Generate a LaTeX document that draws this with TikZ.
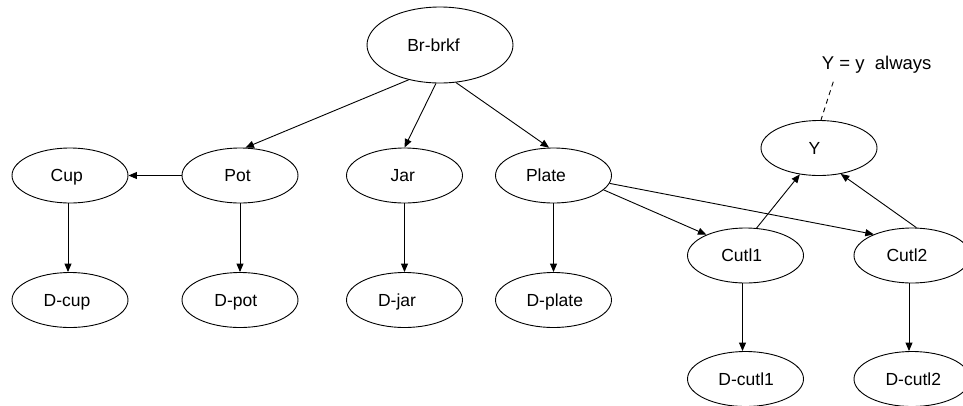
\documentclass[tikz,border=0pt]{standalone}
\usepackage{fontspec}
\setmainfont{Liberation Sans}
\usetikzlibrary{arrows.meta,shapes.geometric}
\begin{document}
\begin{tikzpicture}[x=1pt,y=-1pt,
  every node/.style={font=\fontsize{17.5}{20}\selectfont},
  ell/.style={ellipse,draw,line width=0.9pt,inner sep=0pt,minimum width=116pt,minimum height=55pt,text height=12.5pt,text depth=0pt},
  bigell/.style={ell,minimum width=146pt,minimum height=76pt},
  txshift/.style={execute at begin node={\kern#1pt}},
  arr/.style={draw,line width=0.9pt,-{Triangle[length=8.5pt,width=7pt]}},
  dashline/.style={draw,line width=0.9pt,dash pattern=on 5pt off 4pt},
  notetext/.style={font=\fontsize{18.5}{20}\selectfont,inner sep=0pt}]
\useasboundingbox (0,0) rectangle (963,405);
\node[bigell,txshift=-13] (brkf) at (440,45) {Br-brkf};
\node[ell,txshift=-6.6] (cup) at (70,175.5) {Cup};
\node[ell,txshift=-5] (pot) at (240,175.5) {Pot};
\node[ell,txshift=-3.4] (jar) at (404.5,175.5) {Jar};
\node[ell,txshift=-15] (plate) at (553.5,175.5) {Plate};
\node[ell,txshift=-6] (dcup) at (70,300) {D-cup};
\node[ell,txshift=-8.4] (dpot) at (240,300) {D-pot};
\node[ell,txshift=-15] (djar) at (404.5,300) {D-jar};
\node[ell,txshift=2.6] (dplate) at (553.5,300) {D-plate};
\node[ell,txshift=-9] (Y) at (819,148) {Y};
\node[ell,txshift=-7.6] (cutl1) at (745.5,255.5) {Cutl1};
\node[ell,txshift=-10] (cutl2) at (912,255.5) {Cutl2};
\node[ell,txshift=1.4] (dcutl1) at (745.5,379) {D-cutl1};
\node[ell,txshift=2.6] (dcutl2) at (912,379) {D-cutl2};
\node[notetext,anchor=base west] (note) at (821.7,69.3) {Y = y\ \ always};
\coordinate (dashtop) at (833.3,81.7);
\path[arr] (brkf.228) -- (pot.79);
\path[arr] (brkf.264) -- (jar.north);
\path[arr] (brkf.293) -- (plate.99);
\path[arr] (pot.west) -- (cup.east);
\path[arr] ([xshift=-2pt]cup.south) -- ([xshift=-2pt]dcup.north);
\path[arr] (pot.south) -- (dpot.north);
\path[arr] (jar.south) -- (djar.north);
\path[arr] (plate.south) -- (dplate.north);
\path[arr] (plate.344) -- (cutl1.152);
\path[arr] (plate.352) -- (cutl2.151);
\path[arr] (cutl1.68) -- (Y.234);
\path[arr] (cutl2.81) -- (Y.310);
\path[arr] ([xshift=-3pt]cutl1.south) -- ([xshift=-3pt]dcutl1.north);
\path[arr] ([xshift=-3pt]cutl2.south) -- ([xshift=-3pt]dcutl2.north);
\path[dashline] (dashtop) -- (Y.86);
\end{tikzpicture}
\end{document}
